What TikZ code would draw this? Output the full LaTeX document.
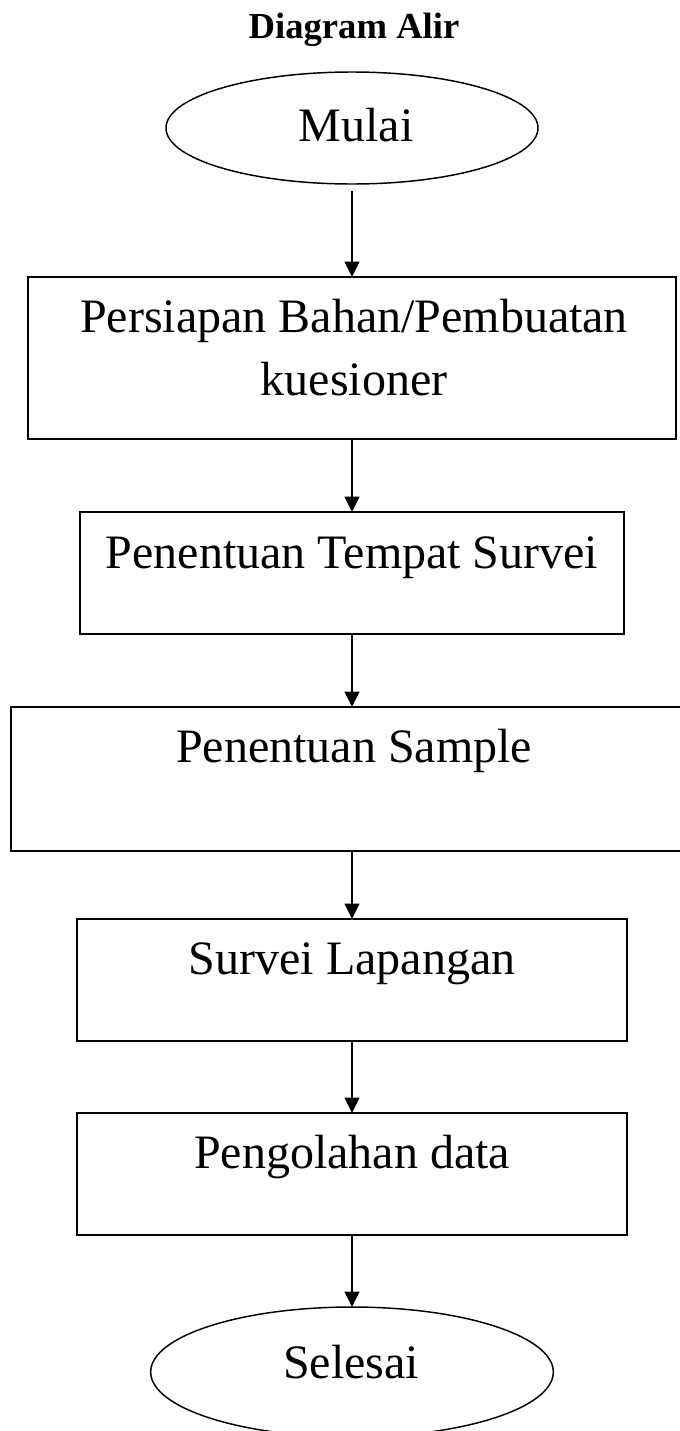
\documentclass[tikz,border=0pt]{standalone}
\usepackage{fontspec}
\setmainfont{Liberation Serif}
\usetikzlibrary{shapes.geometric,arrows.meta}

\tikzset{every picture/.style={line width=1.5pt}}
\tikzset{
  flowbox/.style={draw, rectangle, inner sep=0pt, outer sep=0pt},
  flowoval/.style={draw, ellipse, line width=1.1pt, inner sep=0pt, outer sep=0pt},
  flowtext/.style={anchor=base, inner sep=0.75pt, font=\fontsize{36pt}{47.25pt}\selectfont},
  flowarrow/.style={-{Triangle[length=11.5pt,width=11pt]}},
}

\begin{document}
\begin{tikzpicture}[x=0.75pt,y=0.75pt,yscale=-1,xscale=1]
    \useasboundingbox (0,0) rectangle (680,1431);

    % Text Node
    \draw (354,38) node [anchor=base][inner sep=0.75pt][font=\bfseries\fontsize{27.5pt}{32pt}\selectfont] (judul) {Diagram Alir};

    %Shape: Ellipse [id:mulai]
    \node [flowoval, minimum width=279pt, minimum height=84pt] (mulai) at (352,128) {};
    %Shape: Rectangle [id:box1]
    \node [flowbox, minimum width=486pt, minimum height=121.5pt] (box1) at (352,358) {};
    %Shape: Rectangle [id:box2]
    \node [flowbox, minimum width=408pt, minimum height=91.5pt] (box2) at (352,573) {};
    %Shape: Rectangle [id:box3]
    \node [flowbox, minimum width=511.5pt, minimum height=108pt] (box3) at (352,779) {};
    %Shape: Rectangle [id:box4]
    \node [flowbox, minimum width=412.5pt, minimum height=91.5pt] (box4) at (352,980) {};
    %Shape: Rectangle [id:box5]
    \node [flowbox, minimum width=412.5pt, minimum height=91.5pt] (box5) at (352,1174) {};
    %Shape: Ellipse [id:selesai]
    \node [flowoval, minimum width=302pt, minimum height=97.5pt] (selesai) at (352,1372) {};

    % Text Node
    \draw (356,141) node [flowtext] (tmulai) {Mulai};
    % Text Node
    \draw (354,332) node [flowtext] (t1a) {Persiapan Bahan/Pembuatan};
    % Text Node
    \draw (354,395) node [flowtext] (t1b) {kuesioner};
    % Text Node
    \draw (352,568) node [flowtext] (t2) {Penentuan Tempat Survei};
    % Text Node
    \draw (354,762) node [flowtext] (t3) {Penentuan Sample};
    % Text Node
    \draw (352,974) node [flowtext] (t4) {Survei Lapangan};
    % Text Node
    \draw (352,1168) node [flowtext] (t5) {Pengolahan data};
    % Text Node
    \draw (351,1378) node [flowtext] (tselesai) {Selesai};

    % Arrows
    \draw [flowarrow, shorten <=5pt] (mulai.south) -- (box1.north);
    \draw [flowarrow] (box1.south) -- (box2.north);
    \draw [flowarrow] (box2.south) -- (box3.north);
    \draw [flowarrow] (box3.south) -- (box4.north);
    \draw [flowarrow] (box4.south) -- (box5.north);
    \draw [flowarrow] (box5.south) -- (selesai.north);

\end{tikzpicture}
\end{document}
